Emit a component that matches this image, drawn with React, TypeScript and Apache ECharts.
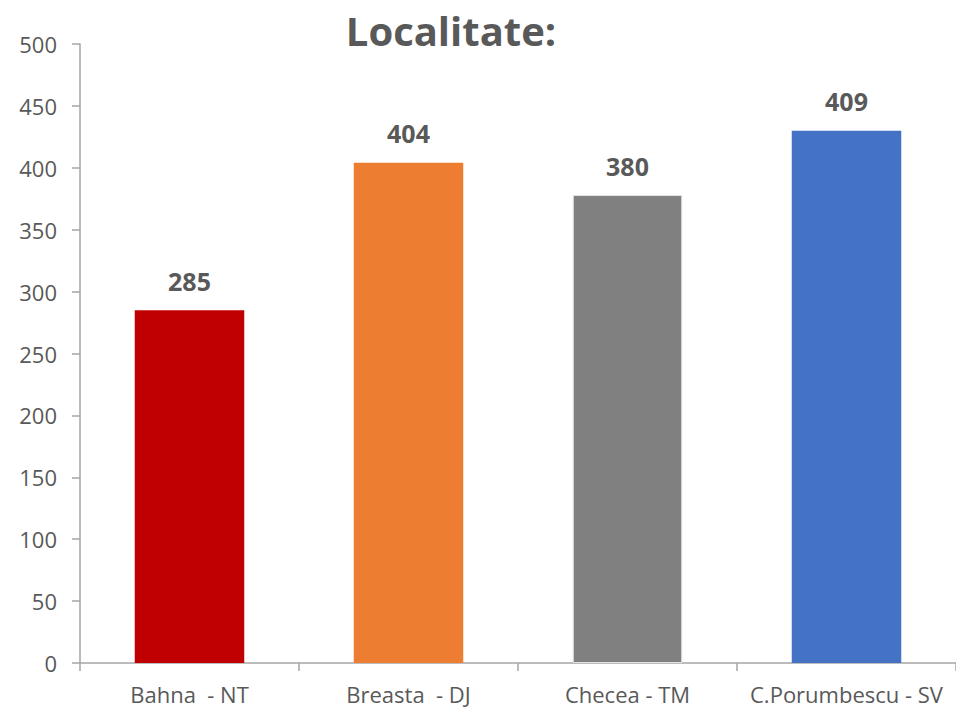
import React, { useEffect, useRef } from "react";
import * as echarts from "echarts";

const categories = ["Bahna  - NT", "Breasta  - DJ", "Checea - TM", "C.Porumbescu - SV"];
const barValues = [285, 404, 378, 430];
const labelTexts = ["285", "404", "380", "409"];
const barColors = ["#C00000", "#ED7D31", "#808080", "#4472C4"];
const yTicks = { min: 0, max: 500, interval: 50 };

export default function App() {
  const ref = useRef<HTMLDivElement>(null);
  useEffect(() => {
    if (!ref.current) return;
    const chart = echarts.init(ref.current, null, { renderer: "svg" });
    const font = "'Open Sans', 'Liberation Sans', sans-serif";
    chart.setOption({
      animation: false,
      title: {
        text: "Localitate:",
        left: 446,
        top: 5,
        textAlign: "center",
        textStyle: { fontFamily: font, fontSize: 40, fontWeight: "bold", color: "#595959" },
      },
      grid: { left: 80, top: 44, width: 878, bottom: 45, containLabel: false },
      xAxis: {
        type: "category",
        data: categories,
        axisLine: { lineStyle: { color: "#a6a6a6", width: 1.5 } },
        axisTick: { show: true, interval: 0, length: 8, lineStyle: { color: "#a6a6a6", width: 1.5 } },
        axisLabel: { interval: 0, hideOverlap: false, fontFamily: font, fontSize: 22, color: "#595959", margin: 20 },
      },
      yAxis: {
        type: "value",
        min: yTicks.min,
        max: yTicks.max,
        interval: yTicks.interval,
        axisLine: { show: true, lineStyle: { color: "#a6a6a6", width: 1.5 } },
        axisTick: { show: true, length: 8, lineStyle: { color: "#a6a6a6", width: 1.5 } },
        splitLine: { show: false },
        axisLabel: { fontFamily: font, fontSize: 22, color: "#595959", margin: 23 },
      },
      series: [
        {
          type: "bar",
          barWidth: "50%",
          data: barValues.map((v, i) => ({
            value: v,
            itemStyle: {
              color: barColors[i],
              borderColor: i === 2 ? "#e3e3e3" : barColors[i],
              borderWidth: i === 2 ? 1 : 0,
            },
          })),
          label: {
            show: true,
            position: "top",
            distance: 17,
            formatter: (p: any) => labelTexts[p.dataIndex],
            fontFamily: font,
            fontSize: 25,
            fontWeight: "bold",
            color: "#595959",
          },
        },
      ],
    });
    return () => chart.dispose();
  }, []);
  return <div ref={ref} style={{ width: 956, height: 708, position: "absolute", left: 0, top: 0 }} />;
}
